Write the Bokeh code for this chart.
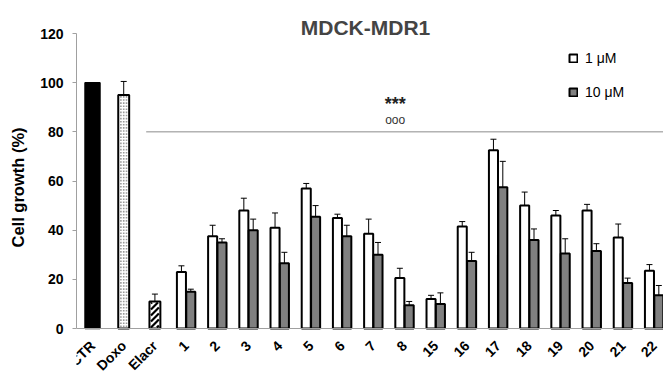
import numpy as np
from bokeh.plotting import figure
from bokeh.models import (Range1d, ColumnDataSource, Whisker, TeeHead, Label, FixedTicker, Span,
                          Legend, LegendItem)
from bokeh.embed import file_html
from bokeh.resources import INLINE
from bokeh.core.properties import value

categories = ["CTR", "Doxo", "Elacr", "1", "2", "3", "4", "5", "6", "7", "8",
              "15", "16", "17", "18", "19", "20", "21", "22"]
single_vals = [100, 95, 11]
single_errs = [0.3, 5.5, 3]
low_vals = [23, 37.5, 48, 41, 57, 45, 38.5, 20.5, 12, 41.5, 72.5, 50, 46, 48, 37, 23.5]
low_errs = [2.5, 4.5, 5, 6, 2, 1.5, 6, 4, 1.5, 2, 4.5, 5.5, 2, 2.5, 5.5, 2.5]
high_vals = [15, 35, 40, 26.5, 45.5, 37.5, 30, 9.5, 10, 27.5, 57.5, 36, 30.5, 31.5, 18.5, 13.5]
high_errs = [1, 1.5, 4.5, 4.5, 4.5, 4.5, 5, 1.5, 4.5, 3.5, 10.5, 4.5, 6, 3, 2, 4]
y_ticks = [0, 20, 40, 60, 80, 100, 120]
threshold = 80

FONT = "Liberation Sans"
GREY = "#808080"
AXIS_GREY = "#a0a0a0"

X0, X1 = -0.513, 18.30
Y0, Y1 = -18.71, 133.43
W, H = 663, 374
LEFT = 76
PX_X = (W - LEFT) / (X1 - X0)
PX_Y = H / (Y1 - Y0)

p = figure(width=W, height=H, output_backend="svg", toolbar_location=None,
           x_range=Range1d(X0, X1), y_range=Range1d(Y0, Y1),
           x_axis_location=None,
           min_border_left=LEFT, min_border_right=0, min_border_top=0, min_border_bottom=0)
p.outline_line_alpha = 0
p.grid.grid_line_alpha = 0

n_single = len(single_vals)
xs_single = list(range(n_single))
xs_pair = np.arange(n_single, len(categories))
off = 0.15
bw = 0.29
sw = 0.35

# x tick labels (rotated), drawn as text glyphs below the baseline
p.text(x=list(range(len(categories))), y=[-6.0] * len(categories), text=categories,
       angle=[np.pi / 4] * len(categories),
       text_align="right", text_baseline="middle",
       text_font=value(FONT), text_font_size="14px", text_font_style="bold")

# baseline (x axis line)
p.add_layout(Span(location=0, dimension="width", line_color=AXIS_GREY, line_width=1))

# single bars
p.vbar(x=[0], top=[single_vals[0]], width=0.48, fill_color="black", line_color="black", line_width=1.5)
p.vbar(x=[1, 2], top=single_vals[1:], width=sw, fill_color="white", line_color="black", line_width=2)

# Doxo dotted fill (pattern derived from the bar's value)
dot = 1.6
cols = np.array([-0.09, 0.0, 0.09]) + 1
rows = np.arange(0.9, single_vals[1] - 0.6, 3.1 / PX_Y)
dx, dy = np.meshgrid(cols, rows)
dx = dx.ravel(); dy = dy.ravel()
p.quad(left=dx - dot / 2 / PX_X, right=dx + dot / 2 / PX_X,
       bottom=dy - dot / 2 / PX_Y, top=dy + dot / 2 / PX_Y,
       fill_color="#9a9a9a", line_color=None)

# Elacr diagonal stripes (pattern derived from the bar's value)
bw_px = sw * PX_X - 3
bh_px = single_vals[2] * PX_Y - 2
xs_l, ys_l = [], []
for c in np.arange(-bw_px + 2, bh_px, 6.0):
    a0 = max(0.0, -c); a1 = min(bw_px, bh_px - c)
    if a1 - a0 > 0.5:
        left = 2 - sw / 2 + 1.5 / PX_X
        xs_l.append([left + a0 / PX_X, left + a1 / PX_X])
        ys_l.append([(a0 + c + 1) / PX_Y, (a1 + c + 1) / PX_Y])
p.multi_line(xs=xs_l, ys=ys_l, line_color="black", line_width=2.2)

# paired bars
r_low = p.vbar(x=list(xs_pair - off), top=low_vals, width=bw, fill_color="white",
               line_color="black", line_width=2)
r_high = p.vbar(x=list(xs_pair + off), top=high_vals, width=bw, fill_color=GREY,
                line_color="black", line_width=2)

def add_err(xs, vals, errs):
    src = ColumnDataSource(dict(x=list(xs), lo=[v - e for v, e in zip(vals, errs)],
                                hi=[v + e for v, e in zip(vals, errs)]))
    w = Whisker(source=src, base="x", lower="lo", upper="hi",
                upper_head=TeeHead(size=6), lower_head=TeeHead(size=6))
    p.add_layout(w)

add_err(xs_single[1:], single_vals[1:], single_errs[1:])
add_err(xs_pair - off, low_vals, low_errs)
add_err(xs_pair + off, high_vals, high_errs)

# threshold line
p.line(x=[1.72, X1], y=[threshold, threshold], line_color="#8c8c8c", line_width=1)

# significance marks
p.add_layout(Label(x=9.7, y=91.5, text="***", text_font=FONT, text_font_size="18px",
                   text_font_style="bold", text_align="center", text_baseline="middle",
                   text_color="#222222"))
p.add_layout(Label(x=9.7, y=85.0, text="ooo", text_font=FONT, text_font_size="12px",
                   text_align="center", text_baseline="middle", text_color="#333333"))

# title
p.add_layout(Label(x=8.75, y=122.4, text="MDCK-MDR1", text_font=FONT, text_font_size="21px",
                   text_font_style="bold", text_align="center", text_baseline="middle"))

# legend
legend = Legend(items=[LegendItem(label="1 μM", renderers=[r_low]),
                       LegendItem(label="10 μM", renderers=[r_high])],
                location=(492, 274), orientation="vertical", padding=0, margin=0, spacing=18,
                glyph_width=10, glyph_height=10, label_height=10, label_standoff=7,
                label_text_font=FONT, label_text_font_size="14px", label_text_color="black",
                border_line_color=None, background_fill_alpha=0)
p.add_layout(legend)

# y axis
p.yaxis.bounds = (0, 120)
p.yaxis.ticker = FixedTicker(ticks=y_ticks)
p.yaxis.axis_label = "Cell growth (%)"
p.yaxis.axis_label_text_font = FONT
p.yaxis.axis_label_text_font_size = "16.5px"
p.yaxis.axis_label_text_font_style = "bold"
p.yaxis.axis_label_text_color = "black"
p.yaxis.axis_label_standoff = 10
p.yaxis.major_label_text_font = FONT
p.yaxis.major_label_text_font_size = "14px"
p.yaxis.major_label_text_font_style = "bold"
p.yaxis.major_label_text_color = "black"
p.yaxis.major_label_standoff = 9
p.yaxis.axis_line_color = AXIS_GREY
p.yaxis.major_tick_line_color = AXIS_GREY
p.yaxis.major_tick_out = 4
p.yaxis.major_tick_in = 0
p.yaxis.minor_tick_line_color = None

open("out.html", "w").write(file_html(p, INLINE))
